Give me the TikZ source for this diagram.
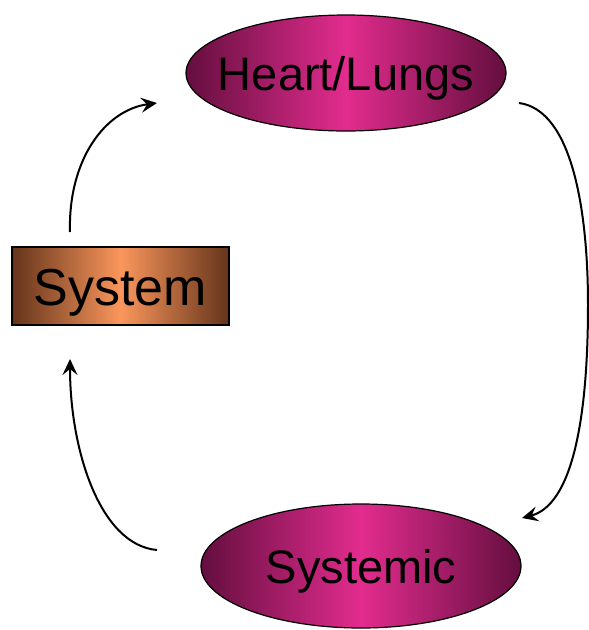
\documentclass[tikz,border=0pt]{standalone}
\usepackage{fontspec}
\setmainfont{Liberation Sans}
\usetikzlibrary{arrows.meta,shapes.geometric}
\definecolor{pinkdark}{RGB}{100,14,62}
\definecolor{pinkmid}{RGB}{226,44,142}
\definecolor{copdark}{RGB}{100,52,26}
\definecolor{copmid}{RGB}{250,150,92}
\begin{document}
\begin{tikzpicture}[x=1pt,y=-1pt,
  lbl/.style={font=\fontsize{47}{50}\selectfont, text=black, text height=34pt, text depth=0pt},
  oval/.style={ellipse, draw=black, line width=1.2pt, inner xsep=-60pt, inner ysep=0pt,
    left color=pinkdark, right color=pinkdark, middle color=pinkmid, lbl},
  boxst/.style={rectangle, draw=black, line width=1.2pt, inner sep=0pt,
    left color=copdark, right color=copdark, middle color=copmid, lbl,
    font=\fontsize{52}{55}\selectfont, text height=38pt},
  flow/.style={line width=2pt, -{Stealth[length=16pt,width=15pt,inset=6pt]}}]
\useasboundingbox (0,0) rectangle (589,630);
\node[oval, minimum width=320pt, minimum height=116pt] (hl) at (346,73) {Heart/Lungs};
\node[oval, minimum width=320pt, minimum height=124pt] (sy) at (361,566) {Systemic};
\node[boxst, minimum width=217pt, minimum height=78pt] (sb) at (120.5,286) {System};
\coordinate (a1s) at (70,232);
\coordinate (a1e) at (157,103);
\coordinate (a2s) at (519,103);
\coordinate (a2m) at (588,305);
\coordinate (a2e) at (522,518);
\coordinate (a3s) at (157,550);
\coordinate (a3e) at (70,359);
\draw[flow] (a1s) .. controls (68,160) and (105,110) .. (a1e);
\draw[flow] (a2s) .. controls (572,110) and (588,210) .. (a2m) .. controls (588,420) and (572,505) .. (a2e);
\draw[flow] (a3s) .. controls (100,545) and (70,450) .. (a3e);
\end{tikzpicture}
\end{document}
